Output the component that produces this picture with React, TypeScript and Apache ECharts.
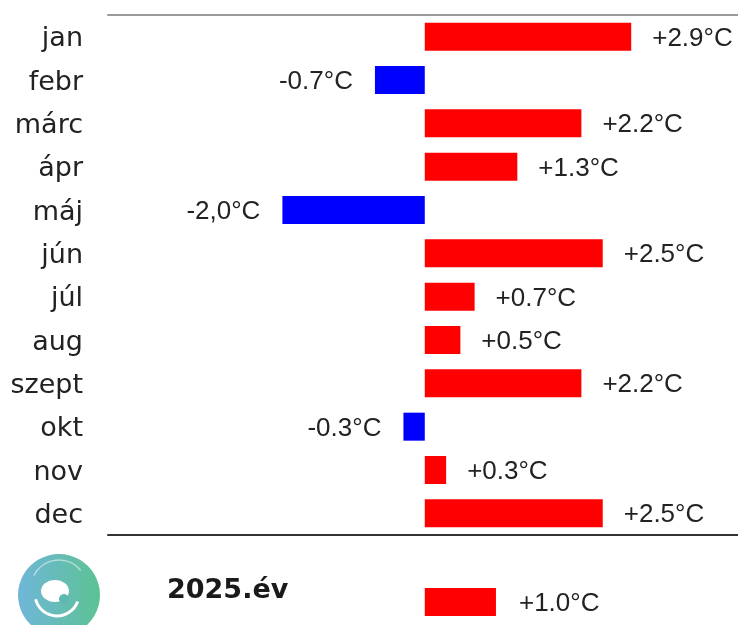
import React, { useEffect, useRef } from "react";
import * as echarts from "echarts";

const months = ["jan", "febr", "márc", "ápr", "máj", "jún", "júl", "aug", "szept", "okt", "nov", "dec"];
const anomalies = [2.9, -0.7, 2.2, 1.3, -2.0, 2.5, 0.7, 0.5, 2.2, -0.3, 0.3, 2.5];
const valueLabels = ["+2.9°C", "-0.7°C", "+2.2°C", "+1.3°C", "-2,0°C", "+2.5°C", "+0.7°C", "+0.5°C", "+2.2°C", "-0.3°C", "+0.3°C", "+2.5°C"];
const yearCategory = ["2025"];
const yearValue = [1.0];
const yearLabel = ["+1.0°C"];

const RED = "#ff0000";
const BLUE = "#0000ff";
const TXT = "#222222";

export default function App() {
  const ref = useRef<HTMLDivElement>(null);
  useEffect(() => {
    if (!ref.current) return;
    const chart = echarts.init(ref.current, null, { renderer: "svg" });
    const xMin = -4.45;
    const xMax = 4.4;
    const valueLabel = (labels: string[]) => ({
      show: true,
      formatter: (p: any) => labels[p.dataIndex],
      fontFamily: "Liberation Sans, Arial, sans-serif",
      fontSize: 26,
      color: TXT,
    });
    const mkData = (vals: number[]) =>
      vals.map((v) => ({
        value: v,
        itemStyle: { color: v >= 0 ? RED : BLUE },
        label: { position: v >= 0 ? "right" : "left", distance: v >= 0 ? 21 : 22 },
      }));
    const grad = {
      type: "linear", x: 0, y: 0, x2: 1, y2: 0,
      colorStops: [
        { offset: 0, color: "#63b0d6" },
        { offset: 1, color: "#4ebd8a" },
      ],
    };
    chart.setOption({
      animation: false,
      grid: [
        { left: 108, right: 0, top: 15, height: 520 },
        { left: 108, right: 0, top: 580, height: 44 },
      ],
      xAxis: [
        {
          gridIndex: 0, type: "value", min: xMin, max: xMax, position: "top",
          axisLine: { show: true, onZero: false, lineStyle: { color: "#9a9a9a", width: 2 } },
          axisTick: { show: false }, axisLabel: { show: false }, splitLine: { show: false },
        },
        {
          gridIndex: 0, type: "value", min: xMin, max: xMax, position: "bottom",
          axisLine: { show: true, onZero: false, lineStyle: { color: "#333333", width: 2 } },
          axisTick: { show: false }, axisLabel: { show: false }, splitLine: { show: false },
        },
        {
          gridIndex: 1, type: "value", min: xMin, max: xMax,
          axisLine: { show: false }, axisTick: { show: false }, axisLabel: { show: false }, splitLine: { show: false },
        },
      ],
      yAxis: [
        {
          gridIndex: 0, type: "category", data: months, inverse: true,
          axisLine: { show: false }, axisTick: { show: false }, splitLine: { show: false },
          axisLabel: { margin: 25, fontFamily: "DejaVu Sans, sans-serif", fontSize: 27, color: TXT },
        },
        {
          gridIndex: 1, type: "category", data: yearCategory,
          axisLine: { show: false }, axisTick: { show: false }, axisLabel: { show: false }, splitLine: { show: false },
        },
      ],
      series: [
        {
          type: "bar", xAxisIndex: 0, yAxisIndex: 0, barWidth: 28,
          data: mkData(anomalies), label: valueLabel(valueLabels),
        },
        {
          type: "bar", xAxisIndex: 2, yAxisIndex: 1, barWidth: 28,
          data: mkData(yearValue).map((d) => ({ ...d, label: { ...d.label, distance: 23 } })),
          label: valueLabel(yearLabel),
        },
      ],
      graphic: [
        {
          type: "group",
          children: [
            { type: "circle", shape: { cx: 59, cy: 595, r: 41 }, style: { fill: grad, opacity: 0.92 } },
            { type: "ellipse", shape: { cx: 55, cy: 591, rx: 14, ry: 11 }, style: { fill: "#ffffff" } },
            { type: "circle", shape: { cx: 64, cy: 599, r: 5 }, style: { fill: "#5cb8b0" } },
            {
              type: "arc",
              shape: { cx: 57, cy: 594, r: 22, startAngle: 0.35, endAngle: 2.9, clockwise: true },
              style: { stroke: "#ffffff", lineWidth: 3, fill: "none" },
            },
            {
              type: "arc",
              shape: { cx: 59, cy: 588, r: 28, startAngle: 3.6, endAngle: 5.6, clockwise: true },
              style: { stroke: "#ffffff", lineWidth: 1.5, fill: "none", opacity: 0.5 },
            },
          ],
        },
        {
          type: "text",
          left: 167,
          top: 575,
          style: {
            text: "2025.év",
            fontFamily: "DejaVu Sans, sans-serif",
            fontWeight: "bold",
            fontSize: 27,
            fill: "#1a1a1a",
          },
        },
      ],
    });
    return () => chart.dispose();
  }, []);
  return <div ref={ref} style={{ position: "fixed", left: 0, top: 0, width: 738, height: 625 }} />;
}
